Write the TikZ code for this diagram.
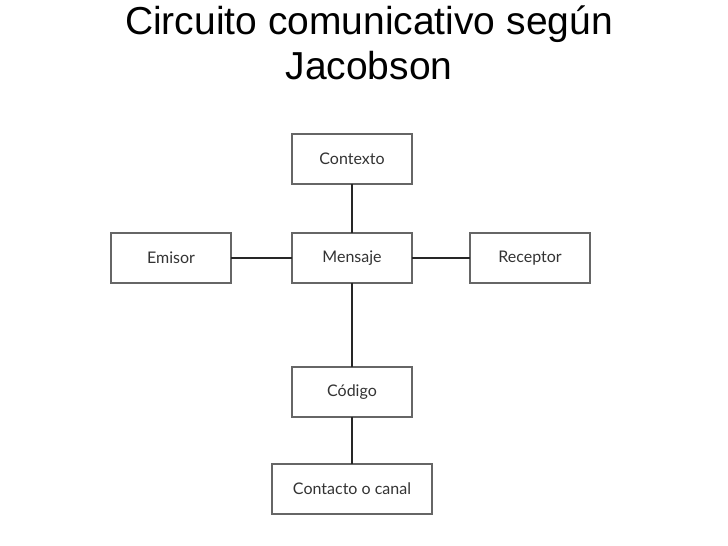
\documentclass[tikz,border=0pt]{standalone}
\usepackage{fontspec}
\setmainfont{Liberation Sans}
\newfontfamily\boxfont{Lato}
\usetikzlibrary{positioning}

\tikzset{
		box/.style={rectangle,draw=gray!80!black,line width=1.6pt,fill=white,
			minimum width=120pt,minimum height=50pt,inner sep=0pt,outer sep=0pt,
			font=\boxfont\fontsize{16}{18}\selectfont,text=black!80},
		link/.style={draw=black!85,line width=2.6pt},
		titlefont/.style={font=\fontsize{39}{45}\selectfont,align=center,inner sep=0pt}
	}

\begin{document}
\begin{tikzpicture}[x=1pt,y=1pt]
				\useasboundingbox (0,0) rectangle (728,546);
				% title
				\node[titlefont,anchor=north] (title) at (369,540) {Circuito comunicativo según\\Jacobson};
				% boxes
				\node[box] (mensaje) at (352,288) {Mensaje};
				\node[box,above=49pt of mensaje] (contexto) {Contexto};
				\node[box,left=61pt of mensaje] (emisor) {Emisor};
				\node[box,right=58pt of mensaje] (receptor) {Receptor};
				\node[box,below=84pt of mensaje] (codigo) {Código};
				\node[box,below=47pt of codigo,minimum width=160pt] (canal) {Contacto o canal};
				% links
				\draw[link] (contexto) -- (mensaje);
				\draw[link] (emisor) -- (mensaje);
				\draw[link] (mensaje) -- (receptor);
				\draw[link] (mensaje) -- (codigo);
				\draw[link] (codigo) -- (canal);
			\end{tikzpicture}
\end{document}
